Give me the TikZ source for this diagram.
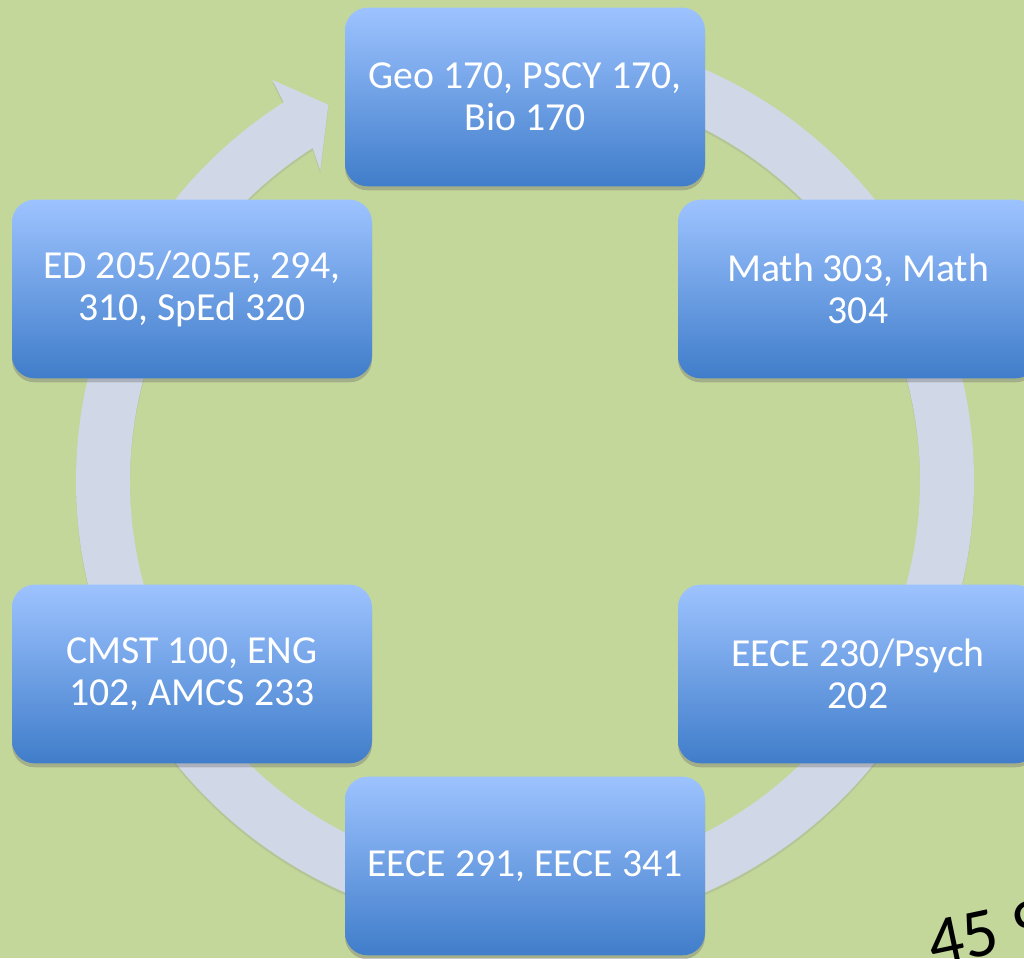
\documentclass[tikz,border=0pt]{standalone}
\usepackage{fontspec}
\setmainfont{Carlito}
\usetikzlibrary{shadows}
\definecolor{bg}{RGB}{196,215,155}
\definecolor{ringc}{RGB}{208,216,232}
\definecolor{btop}{RGB}{157,195,255}
\definecolor{bbot}{RGB}{64,125,202}
\begin{document}
\begin{tikzpicture}[x=0.75pt,y=0.75pt,
  course/.style={rectangle, rounded corners=17pt, minimum width=270pt, minimum height=134pt,
    top color=btop, bottom color=bbot, text=white, align=center, inner sep=0pt,
    font=\fontsize{29.8}{31.5}\selectfont,
    drop shadow={shadow xshift=0pt, shadow yshift=-3pt, opacity=0.35, fill=black!60}}]
\path[use as bounding box] (0,0) rectangle (1024,958);
\fill[bg] (0,0) rectangle (1024,958);
\clip (0,0) rectangle (1024,958);
% cycle ring with arrowhead
\begin{scope}[shift={(525,477)}]
\fill[ringc, drop shadow={shadow xshift=0pt, shadow yshift=-2pt, opacity=0.2, fill=black!50}]
  (90:449) arc[start angle=90, end angle=-237.5, radius=449]
  -- (122.2:474) -- (117.6:424.5) -- (123.4:372) -- (122.5:395)
  arc[start angle=122.5, end angle=450, radius=395] -- cycle;
\end{scope}
\node[course] (n1) at (525,861) {Geo 170, PSCY 170,\\Bio 170};
\node[course] (n2) at (858,669) {Math 303, Math\\304};
\node[course] (n3) at (858,284) {EECE 230/Psych\\202};
\node[course] (n4) at (525,92) {EECE 291, EECE 341};
\node[course] (n5) at (192,284) {CMST 100, ENG\\102, AMCS 233};
\node[course] (n6) at (192,669) {ED 205/205E, 294,\\310, SpEd 320};
\node[rotate=12, anchor=base west, inner sep=0pt, font=\fontsize{52}{60}\selectfont] (pg) at (933,-9) {45 9};
\end{tikzpicture}
\end{document}
